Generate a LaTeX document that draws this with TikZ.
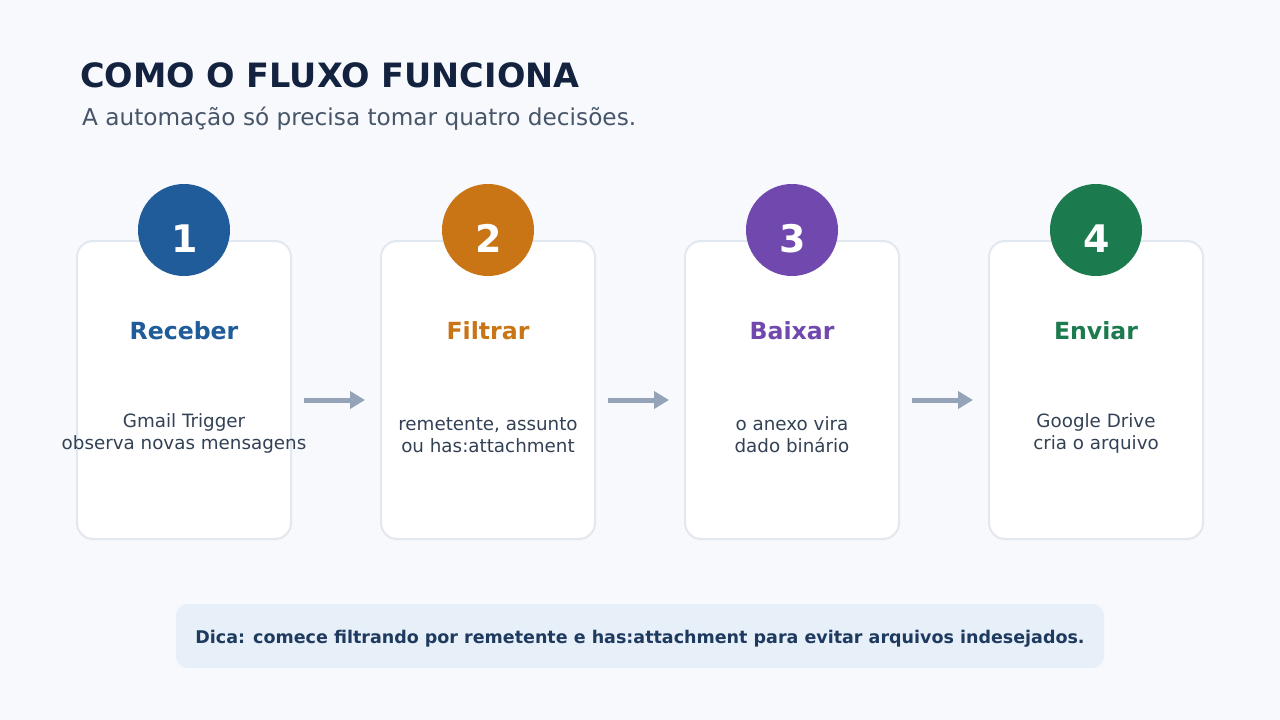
\documentclass[tikz,border=0pt]{standalone}
\usepackage{fontspec}
\setmainfont{DejaVu Sans}
\usetikzlibrary{arrows.meta}
\definecolor{bg}{HTML}{F7F9FC}
\definecolor{cardline}{HTML}{E2E8F0}
\definecolor{titlec}{HTML}{13233F}
\definecolor{subc}{HTML}{475569}
\definecolor{descc}{HTML}{334155}
\definecolor{arrowc}{HTML}{94A3B8}
\definecolor{tipfill}{HTML}{E7EFF9}
\definecolor{tiptext}{HTML}{1E3A5F}
\definecolor{cA}{HTML}{1F5C99}
\definecolor{cB}{HTML}{C97516}
\definecolor{cC}{HTML}{7048AE}
\definecolor{cD}{HTML}{1B7A4E}
\begin{document}
\begin{tikzpicture}[x=1pt,y=-1pt,
  cardbox/.style={draw=cardline,line width=2pt,fill=white,rounded corners=16pt,minimum width=214pt,minimum height=298pt,inner sep=0pt},
  numcircle/.style={circle,minimum size=92pt,inner sep=0pt},
  numtext/.style={anchor=base,inner sep=0pt,text=white,font=\fontsize{38}{40}\selectfont\bfseries},
  steptitle/.style={anchor=base,inner sep=0pt,font=\fontsize{23.6}{26}\selectfont\bfseries},
  stepdesc/.style={anchor=base,inner sep=0pt,text=descc,font=\fontsize{18.3}{22}\selectfont},
  flowarrow/.style={draw=arrowc,line width=5pt,-{Triangle[length=15pt,width=17pt]}}
]
\useasboundingbox (0,0) rectangle (1280,720);
\fill[bg] (0,0) rectangle (1280,720);

\node[anchor=base west,inner sep=0pt,text=titlec,font=\fontsize{33.5}{36}\selectfont\bfseries] (title) at (80,87) {COMO O FLUXO FUNCIONA};
\node[anchor=base west,inner sep=0pt,text=subc,font=\fontsize{23.2}{26}\selectfont] (subtitle) at (82,125) {A automação só precisa tomar quatro decisões.};

% cards
\foreach \i/\cx/\col/\num/\ttl/\la/\lb/\yb in {
  1/184/cA/1/Receber/{Gmail Trigger}/{observa novas mensagens}/427,
  2/488/cB/2/Filtrar/{remetente, assunto}/{ou has:attachment}/430,
  3/792/cC/3/Baixar/{o anexo vira}/{dado binário}/430,
  4/1096/cD/4/Enviar/{Google Drive}/{cria o arquivo}/427}{
  \node[cardbox] (card\i) at (\cx,390) {};
  \node[numcircle,fill=\col] (circ\i) at (\cx,230) {};
  \node[numtext] (num\i) at (\cx+1,252) {\num};
  \node[steptitle,text=\col] (ttl\i) at (\cx,339) {\ttl};
  \node[stepdesc] (da\i) at (\cx,\yb) {\la};
  \node[stepdesc] (db\i) at (\cx,\yb+22) {\lb};
}

% arrows
\coordinate (a1s) at (304,400); \coordinate (a1e) at (365,400);
\coordinate (a2s) at (608,400); \coordinate (a2e) at (669,400);
\coordinate (a3s) at (912,400); \coordinate (a3e) at (973,400);
\draw[flowarrow] (a1s) -- (a1e);
\draw[flowarrow] (a2s) -- (a2e);
\draw[flowarrow] (a3s) -- (a3e);

% tip
\node[fill=tipfill,rounded corners=12pt,minimum width=928pt,minimum height=64pt,inner sep=0pt] (tip) at (640,636) {};
\node[anchor=base,inner sep=0pt,text=tiptext,font=\fontsize{17.5}{20}\selectfont\bfseries] (tiptxt) at (640,643) {Dica: comece filtrando por remetente e has:attachment para evitar arquivos indesejados.};
\end{tikzpicture}
\end{document}
